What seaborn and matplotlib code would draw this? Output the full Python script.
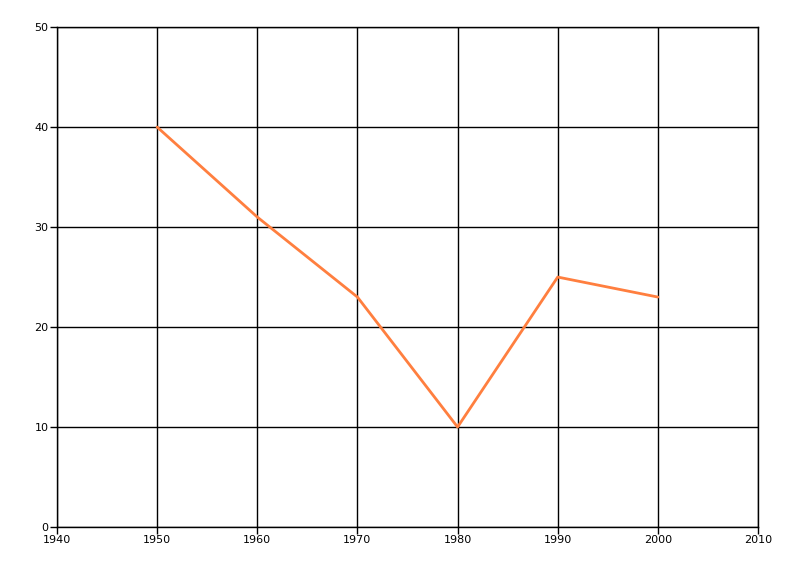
import matplotlib
matplotlib.use("Agg")
import matplotlib.pyplot as plt
import seaborn as sns
import pandas as pd

# values
years = [1950, 1960, 1970, 1980, 1990, 2000]
values = [40, 31, 23, 10, 25, 23]

df = pd.DataFrame({"Year": years, "Value": values})

sns.set_style("white")
plt.rcParams['font.family'] = ['DejaVu Sans']

fig = plt.figure(figsize=(8, 5.76), dpi=100)
ax = fig.add_axes([0.07125, 0.085, 0.87625, 0.868])

sns.lineplot(data=df, x="Year", y="Value", ax=ax, color="#FF7F3F", linewidth=2)

ax.set_xlim(1940, 2010)
ax.set_ylim(0, 50)
ax.set_xticks(range(1940, 2011, 10))
ax.set_yticks(range(0, 51, 10))
ax.grid(True, color="black", linewidth=1)
ax.set_axisbelow(True)
ax.set_xlabel("")
ax.set_ylabel("")

# outer box drawn like the grid lines
for side in ["left", "bottom", "top", "right"]:
    ax.spines[side].set_visible(True)
    ax.spines[side].set_color("black")
    ax.spines[side].set_linewidth(1)

ax.tick_params(axis="both", direction="out", length=5, width=1, color="black",
               labelcolor="black", labelsize=8, bottom=True, left=True, pad=1)

fig.savefig("out.png", dpi=100)
